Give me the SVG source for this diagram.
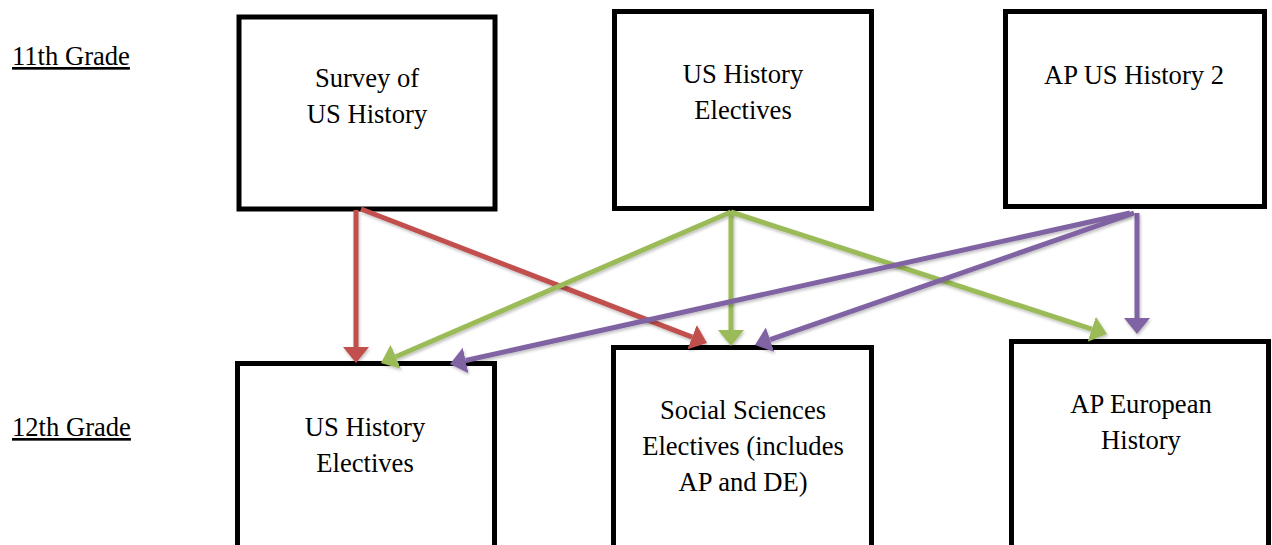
<svg xmlns="http://www.w3.org/2000/svg" width="1272" height="545" viewBox="0 0 1272 545">
<defs>
<style>
.box{fill:#fff;stroke:#000;stroke-width:5}
.t{font-family:"Liberation Serif","Times New Roman",serif;font-size:26.6px;fill:#000;text-anchor:middle}
.lbl{font-family:"Liberation Serif","Times New Roman",serif;font-size:26.6px;fill:#000;text-decoration:underline}
.c{fill:none;stroke-width:5;filter:url(#sh)}
.red{stroke:#C0504D}.green{stroke:#9BBB59}.purple{stroke:#8064A2}
</style>
<filter id="sh" filterUnits="userSpaceOnUse" x="0" y="0" width="1272" height="545"><feDropShadow dx="1" dy="2" stdDeviation="1.5" flood-color="#000" flood-opacity="0.25"/></filter>
<marker id="ar" markerUnits="userSpaceOnUse" markerWidth="17" markerHeight="27" refX="0" refY="13" orient="auto"><path d="M0,0 L16,13 L0,26 z" fill="#C0504D"/></marker>
<marker id="ag" markerUnits="userSpaceOnUse" markerWidth="17" markerHeight="27" refX="0" refY="13" orient="auto"><path d="M0,0 L16,13 L0,26 z" fill="#9BBB59"/></marker>
<marker id="ap" markerUnits="userSpaceOnUse" markerWidth="17" markerHeight="27" refX="0" refY="13" orient="auto"><path d="M0,0 L16,13 L0,26 z" fill="#8064A2"/></marker>
</defs>
<rect width="1272" height="545" fill="#fff"/>
<text class="lbl" x="12" y="65">11th Grade</text>
<text class="lbl" x="12" y="436">12th Grade</text>
<g id="n1"><rect class="box" x="239" y="17" width="256" height="192"/><text class="t" x="367" y="87">Survey of</text><text class="t" x="367" y="123">US History</text></g>
<g id="n2"><rect class="box" x="614.5" y="11.5" width="257" height="197"/><text class="t" x="743" y="83">US History</text><text class="t" x="743" y="119">Electives</text></g>
<g id="n3"><rect class="box" x="1005.5" y="11.5" width="259" height="195"/><text class="t" x="1134" y="84">AP US History 2</text></g>
<g id="n4"><rect class="box" x="237.5" y="363.5" width="257" height="200"/><text class="t" x="365" y="436">US History</text><text class="t" x="365" y="472">Electives</text></g>
<g id="n5"><rect class="box" x="613.5" y="347.5" width="258" height="220"/><text class="t" x="743" y="419">Social Sciences</text><text class="t" x="743" y="455">Electives (includes</text><text class="t" x="743" y="491">AP and DE)</text></g>
<g id="n6"><rect class="box" x="1011.5" y="341.5" width="257" height="220"/><text class="t" x="1141" y="413">AP European</text><text class="t" x="1141" y="449">History</text></g>
<g id="connectors">
<path class="c red" d="M356,210 L356,347" marker-end="url(#ar)"/>
<path class="c red" d="M361,209 L692.1,337.2" marker-end="url(#ar)"/>
<path class="c green" d="M731,212 L395.7,356.7" marker-end="url(#ag)"/>
<path class="c green" d="M731,212 L731,330" marker-end="url(#ag)"/>
<path class="c green" d="M731,212 L1091.8,329.1" marker-end="url(#ag)"/>
<path class="c purple" d="M1137,213 L1137,318" marker-end="url(#ap)"/>
<path class="c purple" d="M1130,213 L465.6,360.5" marker-end="url(#ap)"/>
<path class="c purple" d="M1134,213 L770.1,339.7" marker-end="url(#ap)"/>
</g>
</svg>
